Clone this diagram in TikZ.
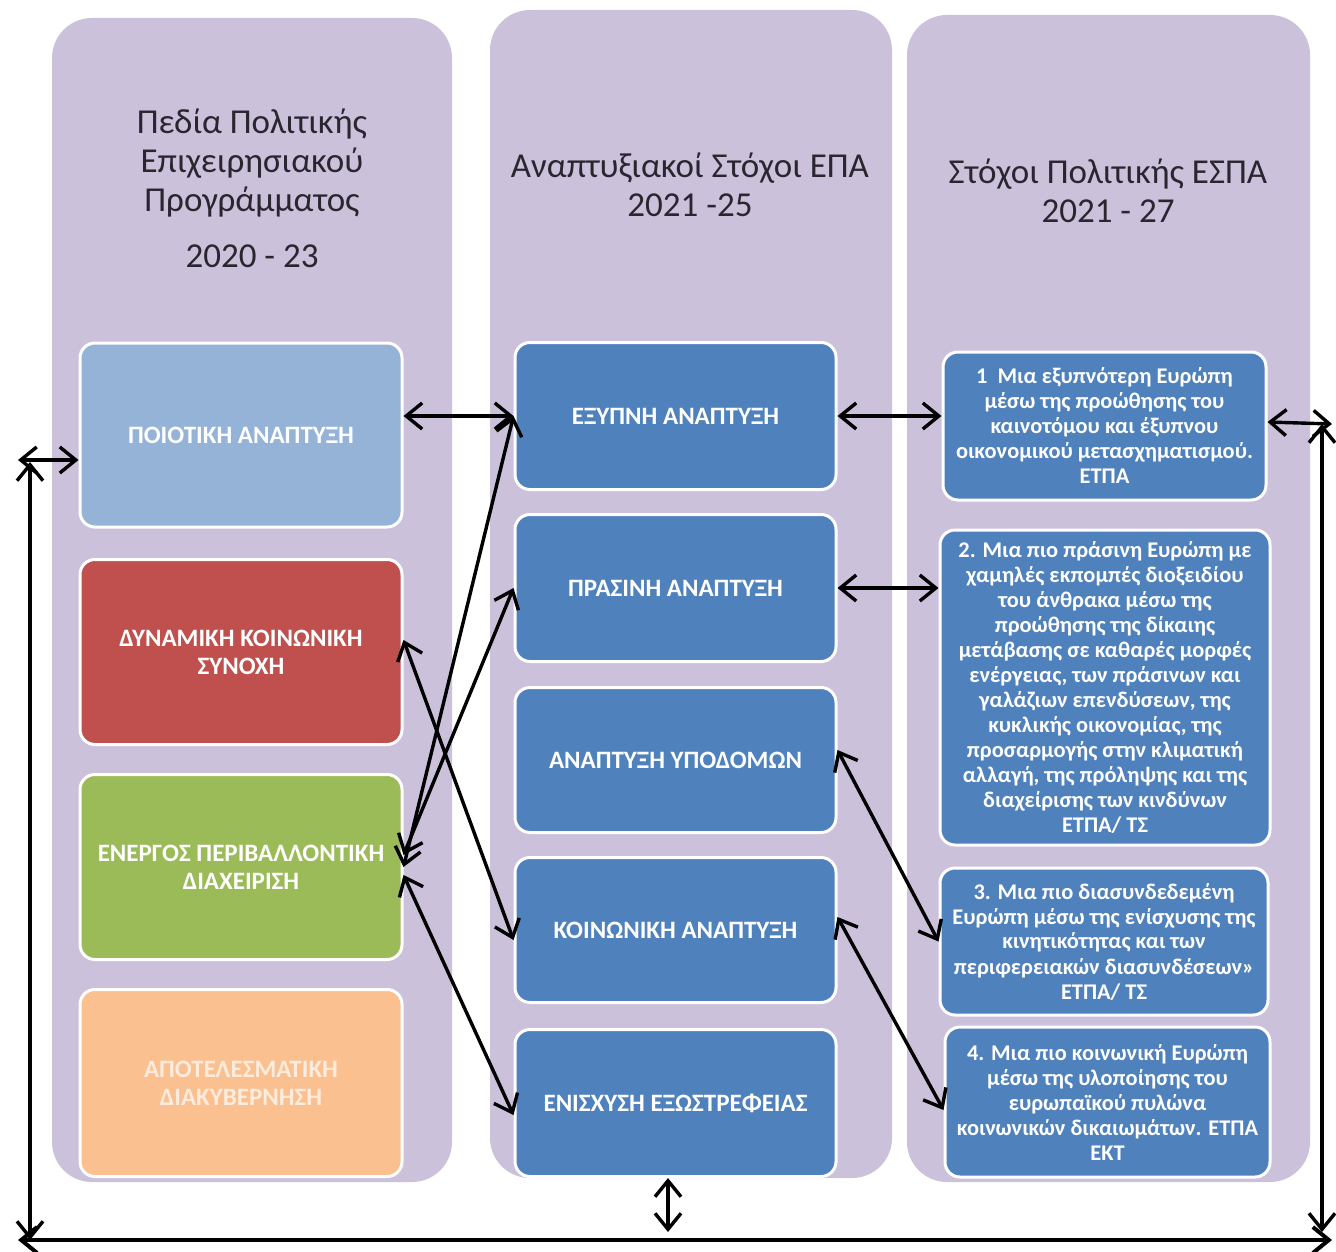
\documentclass[tikz,border=0pt]{standalone}
\usepackage{fontspec}
\setmainfont{Carlito}
\usetikzlibrary{arrows.meta}
\definecolor{lav}{HTML}{CCC1DB}
\definecolor{bluebox}{HTML}{4F81BD}
\definecolor{lblue}{HTML}{95B3D7}
\definecolor{redbox}{HTML}{C0504D}
\definecolor{greenbox}{HTML}{9BBB59}
\definecolor{orangebox}{HTML}{FAC090}
\definecolor{headtxt}{HTML}{2A2630}
\tikzset{
  colbox/.style={fill=lav, draw=none, rounded corners=20pt},
  cellbox/.style={draw=white, line width=1.5pt, rounded corners=7.5pt, text=white,
    align=center, font=\bfseries\fontsize{12.5}{14}\selectfont, inner sep=2pt},
  goalbox/.style={cellbox, fill=bluebox, font=\bfseries\fontsize{11.2}{12.5}\selectfont, inner sep=1pt},
  headtext/.style={align=center, text=headtxt, font=\fontsize{17.5}{19.5}\selectfont},
  dbl/.style={{Straight Barb[length=8pt,width=13pt]}-{Straight Barb[length=8pt,width=13pt]}, line width=1.7pt, black},
}
\begin{document}
\begin{tikzpicture}[x=0.5pt,y=-0.5pt]
\useasboundingbox (0,0) rectangle (1336,1251);
\fill[white] (0,0) rectangle (1336,1251);
% columns
\node[colbox, minimum width=200pt, minimum height=582pt] (colL) at (252,600) {};
\node[colbox, minimum width=201pt, minimum height=584pt] (colM) at (691,594) {};
\node[colbox, minimum width=201.5pt, minimum height=583.5pt] (colR) at (1108.5,598.5) {};
% headers
\node[headtext] (hL) at (252,163) {Πεδία Πολιτικής\\Επιχειρησιακού\\Προγράμματος};
\node[headtext] (hLy) at (252,256) {2020 - 23};
\node[headtext] (hM) at (690,185) {Αναπτυξιακοί Στόχοι ΕΠΑ\\2021 -25};
\node[headtext] (hR) at (1108,191) {Στόχοι Πολιτικής ΕΣΠΑ\\2021 - 27};
% left boxes
\node[cellbox, fill=lblue, minimum width=161pt, minimum height=92pt] (L1) at (241,435) {ΠΟΙΟΤΙΚΗ ΑΝΑΠΤΥΞΗ};
\node[cellbox, fill=redbox, minimum width=161pt, minimum height=92.5pt] (L2) at (241,652) {ΔΥΝΑΜΙΚΗ ΚΟΙΝΩΝΙΚΗ\\ΣΥΝΟΧΗ};
\node[cellbox, fill=greenbox, minimum width=161pt, minimum height=92.5pt] (L3) at (241,867) {ΕΝΕΡΓΟΣ ΠΕΡΙΒΑΛΛΟΝΤΙΚΗ\\ΔΙΑΧΕΙΡΙΣΗ};
\node[cellbox, fill=orangebox, text={rgb,255:red,253;green,236;blue,222}, minimum width=161pt, minimum height=93.5pt] (L4) at (241,1083) {ΑΠΟΤΕΛΕΣΜΑΤΙΚΗ\\ΔΙΑΚΥΒΕΡΝΗΣΗ};
% middle boxes
\node[cellbox, fill=bluebox, minimum width=160.5pt, minimum height=73.5pt] (M1) at (675.5,416) {ΕΞΥΠΝΗ ΑΝΑΠΤΥΞΗ};
\node[cellbox, fill=bluebox, minimum width=160.5pt, minimum height=73.5pt] (M2) at (675.5,588) {ΠΡΑΣΙΝΗ ΑΝΑΠΤΥΞΗ};
\node[cellbox, fill=bluebox, minimum width=160.5pt, minimum height=72.5pt] (M3) at (675.5,760) {ΑΝΑΠΤΥΞΗ ΥΠΟΔΟΜΩΝ};
\node[cellbox, fill=bluebox, minimum width=160.5pt, minimum height=72.5pt] (M4) at (675.5,930) {ΚΟΙΝΩΝΙΚΗ ΑΝΑΠΤΥΞΗ};
\node[cellbox, fill=bluebox, minimum width=160.5pt, minimum height=73.5pt] (M5) at (675.5,1103) {ΕΝΙΣΧΥΣΗ ΕΞΩΣΤΡΕΦΕΙΑΣ};
% right boxes
\node[goalbox, minimum width=161.5pt, minimum height=74pt] (R1) at (1104.5,426) {1\ \ Μια εξυπνότερη Ευρώπη\\μέσω της προώθησης του\\καινοτόμου και έξυπνου\\οικονομικού μετασχηματισμού.\\ΕΤΠΑ};
\node[goalbox, minimum width=165pt, minimum height=157.5pt] (R2) at (1105,687.5) {2. Μια πιο πράσινη Ευρώπη με\\χαμηλές εκπομπές διοξειδίου\\του άνθρακα μέσω της\\προώθησης της δίκαιης\\μετάβασης σε καθαρές μορφές\\ενέργειας, των πράσινων και\\γαλάζιων επενδύσεων, της\\κυκλικής οικονομίας, της\\προσαρμογής στην κλιματική\\αλλαγή, της πρόληψης και της\\διαχείρισης των κινδύνων\\ΕΤΠΑ/ ΤΣ};
\node[goalbox, minimum width=164pt, minimum height=73.5pt] (R3) at (1104,941.5) {3. Μια πιο διασυνδεδεμένη\\Ευρώπη μέσω της ενίσχυσης της\\κινητικότητας και των\\περιφερειακών διασυνδέσεων»\\ΕΤΠΑ/ ΤΣ};
\node[goalbox, minimum width=162.5pt, minimum height=75pt] (R4) at (1107.5,1102) {4. Μια πιο κοινωνική Ευρώπη\\μέσω της υλοποίησης του\\ευρωπαϊκού πυλώνα\\κοινωνικών δικαιωμάτων. ΕΤΠΑ\\ΕΚΤ};
% free ends
\coordinate (lEnd) at (18,460);
\coordinate (lTop) at (30,462);
\coordinate (lBot) at (30,1240);
\coordinate (bL) at (18,1240);
\coordinate (bR) at (1332,1240);
\coordinate (rEnd) at (1332,424);
\coordinate (rTop) at (1322,424);
\coordinate (rBot) at (1322,1232);
\coordinate (mBot) at (668,1232);
% connectors
\draw[dbl] (L1.east |- M1.west) -- (M1.west);
\draw[dbl] (M1.east) -- (R1.west |- M1.east);
\draw[dbl] (M2.east) -- (R2.west |- M2.east);
\draw[dbl] ([yshift=2pt]R1.east) -- (rEnd);
\draw[dbl] (lEnd) -- (L1.west |- lEnd);
\draw[dbl] (lTop) -- (lBot);
\draw[dbl] (rTop) -- (rBot);
\draw[dbl, line width=2pt] (bL) -- (bR);
\draw[dbl] (mBot |- M5.south) -- (mBot);
\draw[dbl] (L3.east) -- (M1.west);
\draw[dbl] ([yshift=6pt]L3.east) -- (M2.west);
\draw[dbl] ([yshift=6pt]L2.east) -- ([yshift=-5pt]M4.west);
\draw[dbl] ([yshift=-4pt]L3.east) -- ([yshift=-6pt]M5.west);
\draw[dbl] ([yshift=5pt]M3.east) -- (R3.west);
\draw[dbl] ([yshift=6.5pt]M4.east) -- ([yshift=-4pt]R4.west);
\end{tikzpicture}
\end{document}
